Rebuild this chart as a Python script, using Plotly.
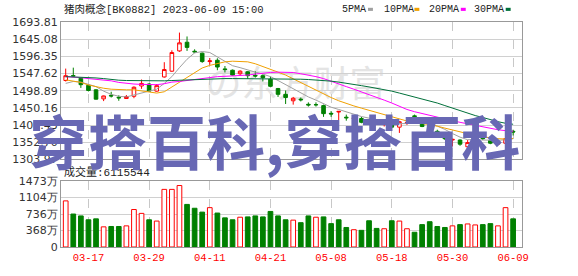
import plotly.graph_objects as go

# ---------------- data ----------------
dates = ["03-14", "03-15", "03-16", "03-17", "03-20", "03-21", "03-22", "03-23", "03-24", "03-27",
         "03-28", "03-29", "03-30", "03-31", "04-03", "04-04", "04-06", "04-07", "04-10", "04-11",
         "04-12", "04-13", "04-14", "04-17", "04-18", "04-19", "04-20", "04-21", "04-24", "04-25",
         "04-26", "04-27", "04-28", "05-04", "05-05", "05-08", "05-09", "05-10", "05-11", "05-12",
         "05-15", "05-16", "05-17", "05-18", "05-19", "05-22", "05-23", "05-24", "05-25", "05-26",
         "05-29", "05-30", "05-31", "06-01", "06-02", "06-05", "06-06", "06-07", "06-08", "06-09"]

opens = [1527.8, 1541.5, 1534.2, 1514.1, 1501.4, 1475.8, 1485.8, 1480.4, 1476.7, 1483.1,
         1512.3, 1517.8, 1497.7, 1537.9, 1554.3, 1611.8, 1636.4, 1610.9, 1605.4, 1581.6,
         1585.3, 1560.7, 1557.0, 1547.0, 1552.5, 1542.4, 1541.5, 1531.5, 1505.0, 1488.6,
         1470.3, 1474.9, 1460.3, 1459.4, 1456.6, 1434.7, 1438.4, 1423.8, 1419.2, 1420.1,
         1411.0, 1410.1, 1402.8, 1406.5, 1395.5, 1406.5, 1427.5, 1406.5, 1395.5, 1383.7,
         1369.9, 1359.0, 1359.0, 1339.9, 1359.0, 1372.7, 1358.1, 1347.2, 1349.9, 1383.7]
highs = [1561.6, 1564.3, 1536.0, 1516.0, 1503.2, 1484.9, 1495.9, 1485.8, 1486.7, 1511.4,
         1530.6, 1520.5, 1517.8, 1579.8, 1613.6, 1663.8, 1652.8, 1616.3, 1607.2, 1591.7,
         1590.8, 1568.9, 1558.9, 1557.0, 1554.3, 1554.3, 1545.2, 1538.8, 1506.8, 1499.5,
         1481.3, 1479.5, 1465.8, 1465.8, 1459.4, 1441.1, 1441.1, 1431.1, 1424.7, 1424.7,
         1417.4, 1415.6, 1410.1, 1408.3, 1412.8, 1410.1, 1431.1, 1411.0, 1399.2, 1388.2,
         1377.3, 1362.7, 1360.8, 1359.0, 1374.5, 1377.3, 1365.4, 1356.3, 1365.4, 1388.2]
lows = [1525.1, 1537.9, 1506.8, 1496.8, 1474.0, 1469.4, 1479.5, 1470.3, 1475.8, 1477.6,
        1504.1, 1495.9, 1495.9, 1536.0, 1552.5, 1609.0, 1611.8, 1605.4, 1578.0, 1572.5,
        1557.0, 1550.6, 1541.5, 1541.5, 1532.4, 1536.0, 1525.1, 1508.7, 1481.3, 1461.2,
        1459.4, 1468.5, 1453.9, 1453.9, 1424.7, 1424.7, 1415.6, 1413.8, 1413.8, 1406.5,
        1401.9, 1401.9, 1397.3, 1392.8, 1379.1, 1401.9, 1422.9, 1395.5, 1383.7, 1368.1,
        1359.0, 1340.8, 1342.6, 1335.3, 1353.5, 1359.0, 1347.2, 1344.4, 1342.6, 1371.8]
closes = [1541.5, 1540.6, 1516.0, 1499.5, 1474.9, 1484.0, 1484.0, 1478.5, 1482.2, 1508.7,
          1519.6, 1497.7, 1513.2, 1558.9, 1607.2, 1634.6, 1621.8, 1609.0, 1581.6, 1583.5,
          1566.1, 1558.9, 1543.3, 1554.3, 1541.5, 1540.6, 1536.0, 1511.4, 1488.6, 1479.5,
          1477.6, 1473.1, 1458.5, 1459.0, 1433.8, 1432.9, 1440.2, 1422.0, 1422.0, 1409.2,
          1408.3, 1404.6, 1405.5, 1395.5, 1411.0, 1408.3, 1425.6, 1397.3, 1388.2, 1371.8,
          1362.7, 1360.8, 1347.2, 1351.7, 1369.9, 1362.7, 1349.9, 1353.5, 1362.7, 1381.8]

ma5 = [1519.6, 1525.1, 1523.3, 1517.8, 1510.5, 1497.7, 1488.6, 1483.1, 1481.3, 1486.8,
       1492.2, 1496.8, 1503.2, 1519.6, 1538.8, 1564.3, 1588.1, 1606.3, 1610.0, 1607.2,
       1594.4, 1580.8, 1569.8, 1564.3, 1557.0, 1551.6, 1546.1, 1538.8, 1527.8, 1516.0,
       1503.2, 1492.2, 1481.3, 1472.2, 1463.0, 1452.1, 1445.7, 1438.4, 1431.1, 1425.6,
       1421.1, 1414.7, 1411.0, 1406.5, 1405.6, 1405.6, 1408.3, 1407.4, 1405.6, 1398.3,
       1389.1, 1377.3, 1367.2, 1359.9, 1359.0, 1359.0, 1357.2, 1358.1, 1359.9, 1362.7]
ma10 = [1529.7, 1526.9, 1522.4, 1515.1, 1509.6, 1505.9, 1503.2, 1501.4, 1501.4, 1501.4,
        1498.6, 1495.0, 1492.2, 1495.9, 1509.6, 1524.2, 1537.0, 1551.6, 1563.4, 1570.7,
        1576.2, 1580.8, 1582.6, 1582.6, 1580.8, 1575.3, 1568.0, 1560.7, 1551.6, 1543.3,
        1532.4, 1521.4, 1512.3, 1501.4, 1490.4, 1479.5, 1470.3, 1462.1, 1455.7, 1449.4,
        1443.0, 1436.6, 1431.1, 1424.7, 1419.2, 1412.9, 1410.1, 1406.5, 1401.9, 1398.3,
        1392.8, 1387.3, 1380.9, 1376.4, 1371.8, 1368.1, 1364.5, 1362.7, 1361.8, 1363.6]
ma20 = [1538.8, 1537.9, 1536.0, 1533.3, 1531.5, 1528.7, 1526.9, 1522.4, 1519.6, 1517.8,
        1516.9, 1516.0, 1516.0, 1518.7, 1523.3, 1525.1, 1527.8, 1530.6, 1534.2, 1537.0,
        1538.8, 1539.7, 1540.6, 1541.5, 1543.3, 1546.1, 1548.8, 1550.6, 1551.5, 1551.5,
        1550.6, 1547.0, 1543.3, 1538.8, 1533.3, 1525.1, 1517.8, 1510.5, 1503.2, 1495.9,
        1488.6, 1480.4, 1472.2, 1463.9, 1454.8, 1445.7, 1439.3, 1433.8, 1428.4, 1423.8,
        1418.3, 1413.8, 1409.2, 1404.6, 1400.1, 1395.5, 1391.9, 1388.2, 1385.5, 1383.7]
ma30 = [1538.8, 1538.3, 1537.9, 1537.0, 1535.1, 1533.3, 1530.6, 1528.7, 1527.8, 1527.4,
        1526.9, 1526.9, 1526.9, 1526.9, 1527.8, 1528.7, 1529.5, 1530.4, 1531.5, 1532.8,
        1533.3, 1533.3, 1533.3, 1533.3, 1533.3, 1533.3, 1533.3, 1533.3, 1533.3, 1533.3,
        1533.3, 1531.5, 1530.6, 1529.5, 1527.8, 1526.0, 1523.3, 1520.5, 1516.9, 1513.2,
        1509.6, 1505.9, 1502.3, 1497.7, 1492.2, 1486.8, 1481.3, 1474.9, 1469.4, 1463.9,
        1456.7, 1449.4, 1443.0, 1435.7, 1428.4, 1422.9, 1416.5, 1411.0, 1406.5, 1403.7]

# volume in 万 (10k shares)
volume = [1030, 736, 694, 608, 629, 450, 458, 458, 472, 837,
          751, 608, 579, 1287, 1287, 1373, 951, 865, 779, 879,
          758, 651, 608, 665, 672, 694, 672, 794, 694, 608,
          600, 543, 694, 665, 672, 522, 608, 436, 386, 372,
          586, 415, 408, 586, 579, 408, 329, 500, 565, 458,
          436, 472, 500, 515, 493, 500, 522, 472, 879, 629]
vol_up = [1, 0, 0, 0, 0, 1, 0, 0, 1, 1,
          1, 0, 1, 1, 1, 1, 0, 0, 0, 1,
          0, 0, 0, 1, 0, 0, 0, 0, 0, 0,
          1, 0, 0, 1, 0, 0, 0, 0, 1, 0,
          0, 0, 1, 0, 1, 1, 0, 0, 0, 0,
          0, 1, 0, 1, 1, 0, 0, 1, 1, 0]

tick_dates = ["03-17", "03-29", "04-11", "04-21", "05-08", "05-18", "05-30", "06-09"]
price_ticks = [1693.81, 1645.08, 1596.35, 1547.62, 1498.89, 1450.16, 1401.43, 1352.70, 1303.97]
vol_ticks = [0, 368, 736, 1104, 1473]
vol_tick_text = ["0", "368万", "736万", "1104万", "1473万"]

ma_names = ["5PMA", "10PMA", "20PMA", "30PMA"]
ma_colors = ["#a0a0a0", "#f0a000", "#ff00ff", "#00703a"]
ma_series = [ma5, ma10, ma20, ma30]

title_text = "猪肉概念[BK0882] 2023-06-09 15:00"
vol_label = "成交量:6115544"
watermark = "穿搭百科,穿搭百科"

RED = "#ff0000"
GREEN = "#008000"

# ---------------- geometry helpers ----------------
W, H = 578, 276
L, R, T, B = 55, 522, 22, 255


def px(xp):
    return (xp - L) / (R - L)


def py(yp):
    return (B - yp) / (B - T)


fig = go.Figure()

fig.add_trace(go.Candlestick(
    x=dates, open=opens, high=highs, low=lows, close=closes,
    increasing=dict(line=dict(color=RED, width=1), fillcolor="#ffffff"),
    decreasing=dict(line=dict(color=GREEN, width=1), fillcolor=GREEN),
    whiskerwidth=0, hoverinfo="skip", showlegend=False,
    xaxis="x", yaxis="y"))

for name, vals, col in zip(ma_names, ma_series, ma_colors):
    fig.add_trace(go.Scatter(x=dates, y=vals, mode="lines", name=name,
                             line=dict(color=col, width=1), hoverinfo="skip",
                             showlegend=False, xaxis="x", yaxis="y"))

fig.add_trace(go.Bar(
    x=dates, y=volume, width=0.62,
    marker=dict(color=["#ffffff" if u else GREEN for u in vol_up],
                line=dict(color=[RED if u else GREEN for u in vol_up], width=1)),
    hoverinfo="skip", showlegend=False, xaxis="x2", yaxis="y2"))

xrange = [-0.62, 60.17]
common_x = dict(type="category", categoryorder="array", categoryarray=dates,
                range=xrange, tickvals=tick_dates, showgrid=True,
                gridcolor="#c8c8c8", griddash="dash", gridwidth=1,
                showline=True, mirror=True, linecolor="#999999", linewidth=1,
                zeroline=False, ticks="", fixedrange=True)
ytick_font = dict(family="DejaVu Sans", size=11, color="#333333")

fig.update_layout(
    width=W, height=H,
    margin=dict(l=L, r=W - R, t=T, b=H - B, pad=0),
    paper_bgcolor="white", plot_bgcolor="rgba(0,0,0,0)",
    showlegend=False, boxgap=0.32,
    xaxis=dict(domain=[0, 1], anchor="y", showticklabels=False,
               rangeslider=dict(visible=False), **common_x),
    xaxis2=dict(domain=[0, 1], anchor="y2", showticklabels=True, ticktext=tick_dates,
                tickfont=dict(family="Liberation Mono", size=10.5, color=RED), **common_x),
    yaxis=dict(domain=[py(164.3), 1], anchor="x", range=[price_ticks[-1], price_ticks[0]],
               tickvals=price_ticks, ticktext=["%.2f" % v for v in price_ticks],
               showgrid=True, gridcolor="#d0d0d0", gridwidth=1, zeroline=False,
               showline=True, mirror=True, linecolor="#999999", linewidth=1,
               ticks="", tickfont=ytick_font, fixedrange=True),
    yaxis2=dict(domain=[0, py(186.7)], anchor="x2", range=[0, vol_ticks[-1]],
                tickvals=vol_ticks, ticktext=vol_tick_text,
                showgrid=True, gridcolor="#d0d0d0", gridwidth=1, zeroline=False,
                showline=True, mirror=True, linecolor="#999999", linewidth=1,
                ticks="", tickfont=ytick_font, fixedrange=True),
)

# faint logo watermark behind the data
fig.add_shape(type="rect", xref="paper", yref="paper",
              x0=px(195), x1=px(390), y0=py(108), y1=py(70),
              line=dict(width=0), fillcolor="rgba(0,0,0,0)", layer="below",
              label=dict(text="の东方财富", textposition="middle center",
                         font=dict(family="Noto Sans CJK SC", size=36, color="#e4e4e4")))

annotations = []
annotations.append(dict(text=title_text, xref="paper", yref="paper", x=px(56), y=py(9),
                        xanchor="left", yanchor="middle", showarrow=False,
                        font=dict(family="Liberation Mono, Noto Sans CJK SC", size=10.5, color="#222222")))
annotations.append(dict(text=vol_label, xref="paper", yref="paper", x=px(56), y=py(177.5),
                        xanchor="left", yanchor="middle", showarrow=False,
                        font=dict(family="Liberation Mono, Noto Sans CJK SC", size=11, color="#222222")))

legend_x = [338, 380, 425.5, 471.5]
swatch_x = [366, 413, 460, 505.5]
for name, col, lx, sx in zip(ma_names, ma_colors, legend_x, swatch_x):
    annotations.append(dict(text=name, xref="paper", yref="paper", x=px(lx), y=py(9.5),
                            xanchor="left", yanchor="middle", showarrow=False,
                            font=dict(family="Liberation Mono", size=10, color="#222222")))
    fig.add_shape(type="rect", xref="paper", yref="paper",
                  x0=px(sx), x1=px(sx + 5), y0=py(10.5), y1=py(7.3),
                  line=dict(width=0), fillcolor=col, layer="above")

annotations.append(dict(text="<b>" + watermark + "</b>", xref="paper", yref="paper",
                        x=px(271.5), y=py(144), xanchor="center", yanchor="middle",
                        showarrow=False,
                        font=dict(family="Noto Sans CJK SC", size=59, color="#6868b4")))

fig.update_layout(annotations=annotations)

fig.write_html("out.html")
